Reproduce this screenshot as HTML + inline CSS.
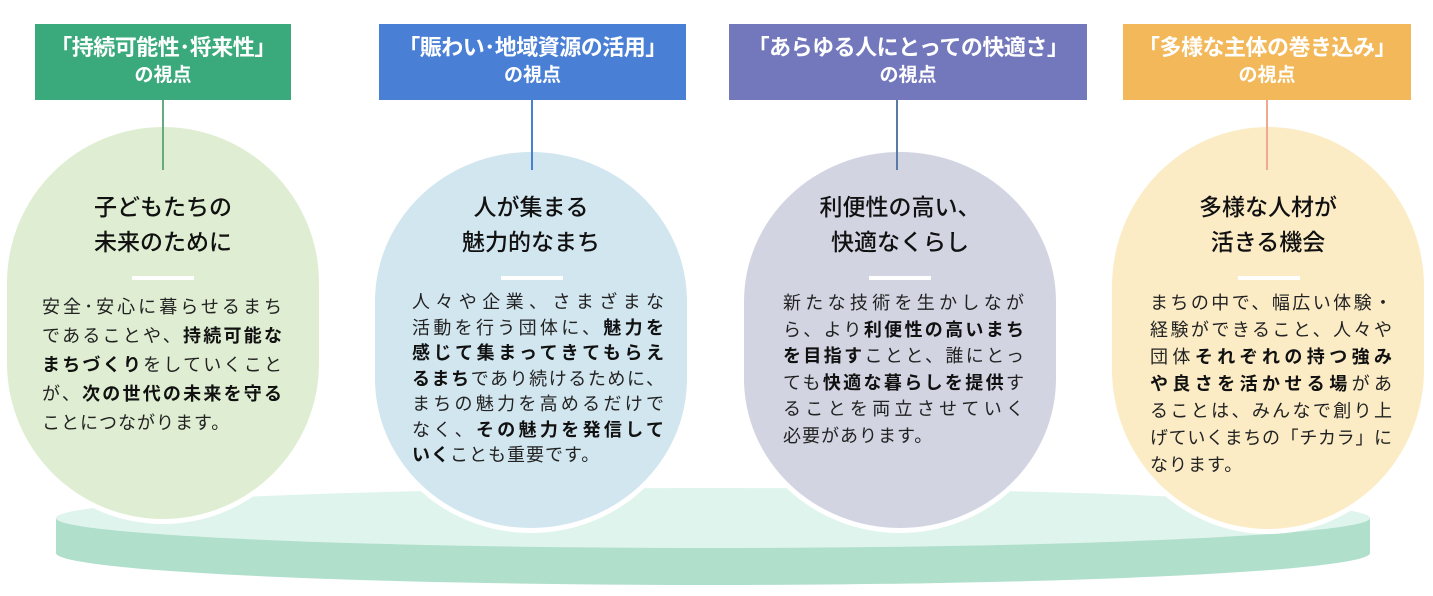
<!DOCTYPE html>
<html><head><meta charset="utf-8"><style>
*{margin:0;padding:0;box-sizing:border-box}
body{width:1433px;height:596px;background:#fff;position:relative;overflow:hidden;font-family:"Liberation Sans","Noto Sans CJK JP",sans-serif;color:#222}
.hd{position:absolute;top:24px;height:76px;color:#fff;font-weight:bold;text-align:center;padding-top:8px}
.hd .a{font-size:22px;line-height:31px;white-space:nowrap;letter-spacing:-0.5px}
.hd .b{font-size:19px;line-height:26px}
.ln{position:absolute;width:2px}
.bub{position:absolute;border-radius:50%/40%;border:5px solid #fff}
.t{position:absolute;text-align:center;font-size:23px;font-weight:500;line-height:35px;color:#111;white-space:nowrap}
.bar{position:absolute;width:62px;height:4px;background:#fff}
.bd{position:absolute;font-size:18px}
.bd div{white-space:nowrap;text-align:justify;text-align-last:justify;text-justify:inter-character}
.bd div.l{text-align-last:left;letter-spacing:1px}
b{font-weight:bold;color:#111}
</style></head><body>
<svg style="position:absolute;left:0;top:0" width="1433" height="596">
<path d="M56 518 L56 553 A657 32 0 0 0 1370 553 L1370 518 Z" fill="#b0dfcc"/>
<ellipse cx="713" cy="518" rx="657" ry="30" fill="#dff4ec"/>
</svg>

<div class="hd" style="left:35px;width:256px;background:#3aaa7c"><div class="a">「持続可能性･将来性」</div><div class="b">の視点</div></div>
<div class="hd" style="left:379px;width:307px;background:#4a7fd6"><div class="a">「賑わい･地域資源の活用」</div><div class="b">の視点</div></div>
<div class="hd" style="left:729px;width:358px;background:#7378bd"><div class="a">「あらゆる人にとっての快適さ」</div><div class="b">の視点</div></div>
<div class="hd" style="left:1123px;width:288px;background:#f2b85a"><div class="a">「多様な主体の巻き込み」</div><div class="b">の視点</div></div>

<div class="bub" style="left:2px;top:122px;width:322px;height:402px;background:#dfeed2"></div>
<div class="bub" style="left:370px;top:147px;width:322px;height:386px;background:#d2e6f0"></div>
<div class="bub" style="left:739px;top:147px;width:322px;height:386px;background:#d2d4e2"></div>
<div class="bub" style="left:1107px;top:122px;width:322px;height:412px;background:#fbecc6"></div>

<div class="ln" style="left:162px;top:100px;height:70px;background:#6aa882"></div>
<div class="ln" style="left:531px;top:100px;height:70px;background:#4a7fd6"></div>
<div class="ln" style="left:896px;top:100px;height:70px;background:#5a7aa8"></div>
<div class="ln" style="left:1266px;top:100px;height:70px;background:#f0a890"></div>

<div class="t" style="left:13px;width:300px;top:190px">子どもたちの<br>未来のために</div>
<div class="t" style="left:381px;width:300px;top:190px">人が集まる<br>魅力的なまち</div>
<div class="t" style="left:750px;width:300px;top:190px">利便性の高い、<br>快適なくらし</div>
<div class="t" style="left:1118px;width:300px;top:190px">多様な人材が<br>活きる機会</div>

<div class="bar" style="left:132px;top:276px"></div>
<div class="bar" style="left:501px;top:276px"></div>
<div class="bar" style="left:869px;top:276px"></div>
<div class="bar" style="left:1238px;top:276px"></div>

<div class="bd" style="left:42px;top:293px;width:240px;line-height:29px">
<div>安全･安心に暮らせるまち</div>
<div>であることや、<b>持続可能な</b></div>
<div><b>まちづくり</b>をしていくこと</div>
<div>が、<b>次の世代の未来を守る</b></div>
<div class="l">ことにつながります。</div>
</div>

<div class="bd" style="left:412px;top:290px;width:252px;line-height:25.5px">
<div>人々や企業、さまざまな</div>
<div>活動を行う団体に、<b>魅力を</b></div>
<div><b>感じて集まってきてもらえ</b></div>
<div><b>るまち</b>であり続けるために、</div>
<div>まちの魅力を高めるだけで</div>
<div>なく、<b>その魅力を発信して</b></div>
<div class="l"><b>いく</b>ことも重要です。</div>
</div>

<div class="bd" style="left:783px;top:290px;width:241px;line-height:26.5px">
<div>新たな技術を生かしなが</div>
<div>ら、より<b>利便性の高いまち</b></div>
<div><b>を目指す</b>ことと、誰にとっ</div>
<div>ても<b>快適な暮らしを提供</b>す</div>
<div>ることを両立させていく</div>
<div class="l">必要があります。</div>
</div>

<div class="bd" style="left:1150px;top:290px;width:242px;line-height:27px">
<div>まちの中で、幅広い体験・</div>
<div>経験ができること、人々や</div>
<div>団体<b>それぞれの持つ強み</b></div>
<div><b>や良さを活かせる場</b>があ</div>
<div>ることは、みんなで創り上</div>
<div>げていくまちの「チカラ」に</div>
<div class="l">なります。</div>
</div>
</body></html>
